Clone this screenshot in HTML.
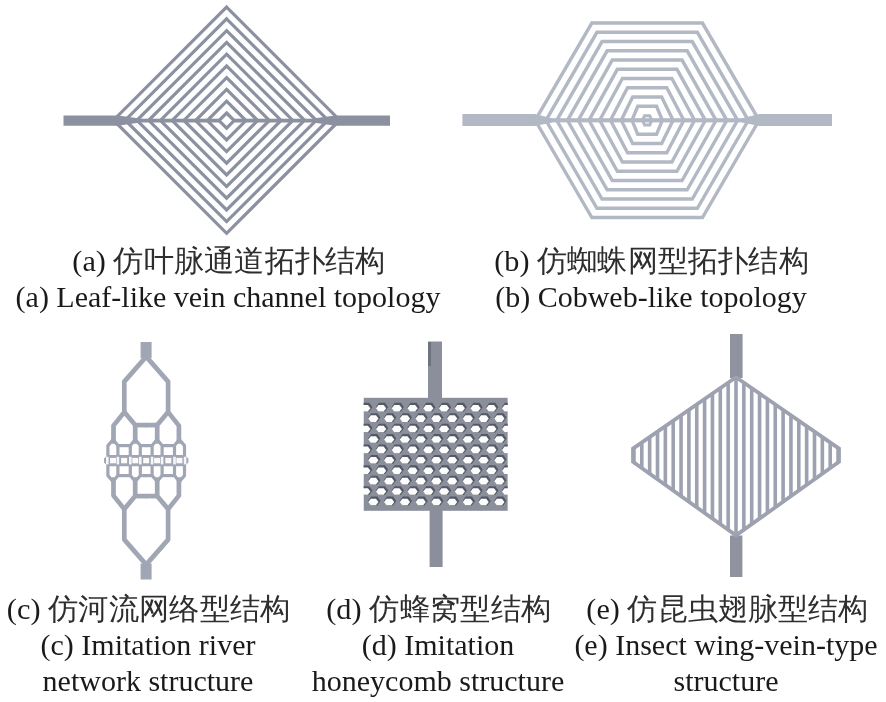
<!DOCTYPE html>
<html><head><meta charset="utf-8"><style>
html,body{margin:0;padding:0;background:#fff;width:886px;height:702px;overflow:hidden}
svg{display:block}
text{font-family:"Liberation Serif",serif;font-size:30px;fill:#1a1a1a}
svg{will-change:transform}
.cj{fill:#2e2e2e}
</style></head><body>
<svg width="886" height="702" viewBox="0 0 886 702">
<g>
<polygon points="226.6,113.00 234.20,120.60 226.6,128.20 219.00,120.60" fill="none" stroke="#8b91a0" stroke-width="3.2" stroke-linejoin="miter"/>
<polygon points="226.6,101.24 245.92,120.56 226.6,139.88 207.28,120.56" fill="none" stroke="#8b91a0" stroke-width="3.2" stroke-linejoin="miter"/>
<polygon points="226.6,89.47 257.64,120.51 226.6,151.55 195.56,120.51" fill="none" stroke="#8b91a0" stroke-width="3.2" stroke-linejoin="miter"/>
<polygon points="226.6,77.71 269.36,120.47 226.6,163.23 183.84,120.47" fill="none" stroke="#8b91a0" stroke-width="3.2" stroke-linejoin="miter"/>
<polygon points="226.6,65.94 281.08,120.42 226.6,174.90 172.12,120.42" fill="none" stroke="#8b91a0" stroke-width="3.2" stroke-linejoin="miter"/>
<polygon points="226.6,54.18 292.80,120.38 226.6,186.58 160.40,120.38" fill="none" stroke="#8b91a0" stroke-width="3.2" stroke-linejoin="miter"/>
<polygon points="226.6,42.41 304.52,120.33 226.6,198.25 148.68,120.33" fill="none" stroke="#8b91a0" stroke-width="3.2" stroke-linejoin="miter"/>
<polygon points="226.6,30.65 316.24,120.29 226.6,209.93 136.96,120.29" fill="none" stroke="#8b91a0" stroke-width="3.2" stroke-linejoin="miter"/>
<polygon points="226.6,18.88 327.96,120.24 226.6,221.60 125.24,120.24" fill="none" stroke="#8b91a0" stroke-width="3.2" stroke-linejoin="miter"/>
<polygon points="226.6,7.12 339.68,120.20 226.6,233.28 113.52,120.20" fill="none" stroke="#8b91a0" stroke-width="3.2" stroke-linejoin="miter"/>
<rect x="112.6" y="118.69999999999999" width="106.4" height="3.8" fill="#8b91a0"/>
<rect x="234.2" y="118.69999999999999" width="106.4" height="3.8" fill="#8b91a0"/>
<polygon points="63.5,115.4 118,115.4 140,118.6 140,122.6 118,125.8 63.5,125.8" fill="#8b91a0"/>
<polygon points="390,115.4 335.5,115.4 313,118.6 313,122.6 335.5,125.8 390,125.8" fill="#8b91a0"/>
<polygon points="637.75,106.30 656.55,106.30 662.35,120.30 656.55,134.30 637.75,134.30 631.95,120.30" fill="none" stroke="#b3b8c5" stroke-width="3.4"/>
<polygon points="632.65,97.05 661.65,97.05 673.10,120.30 661.65,143.55 632.65,143.55 621.20,120.30" fill="none" stroke="#b3b8c5" stroke-width="3.4"/>
<polygon points="627.55,87.80 666.75,87.80 683.85,120.30 666.75,152.80 627.55,152.80 610.45,120.30" fill="none" stroke="#b3b8c5" stroke-width="3.4"/>
<polygon points="622.45,78.55 671.85,78.55 694.60,120.30 671.85,162.05 622.45,162.05 599.70,120.30" fill="none" stroke="#b3b8c5" stroke-width="3.4"/>
<polygon points="617.35,69.30 676.95,69.30 705.35,120.30 676.95,171.30 617.35,171.30 588.95,120.30" fill="none" stroke="#b3b8c5" stroke-width="3.4"/>
<polygon points="612.25,60.05 682.05,60.05 716.10,120.30 682.05,180.55 612.25,180.55 578.20,120.30" fill="none" stroke="#b3b8c5" stroke-width="3.4"/>
<polygon points="607.15,50.80 687.15,50.80 726.85,120.30 687.15,189.80 607.15,189.80 567.45,120.30" fill="none" stroke="#b3b8c5" stroke-width="3.4"/>
<polygon points="602.05,41.55 692.25,41.55 737.60,120.30 692.25,199.05 602.05,199.05 556.70,120.30" fill="none" stroke="#b3b8c5" stroke-width="3.4"/>
<polygon points="596.95,32.30 697.35,32.30 748.35,120.30 697.35,208.30 596.95,208.30 545.95,120.30" fill="none" stroke="#b3b8c5" stroke-width="3.4"/>
<polygon points="591.85,23.05 702.45,23.05 759.10,120.30 702.45,217.55 591.85,217.55 535.20,120.30" fill="none" stroke="#b3b8c5" stroke-width="3.4"/>
<rect x="537.15" y="118.2" width="220" height="4.2" fill="#b3b8c5"/>
<polygon points="462.4,113.9 535,113.9 552,118.2 552,122.4 535,126 462.4,126" fill="#b3b8c5"/>
<polygon points="832,113.9 759.5,113.9 742,118.2 742,122.4 759.5,126 832,126" fill="#b3b8c5"/>
<polygon points="644.55,115.70 649.75,115.70 651.75,120.30 649.75,124.90 644.55,124.90 642.55,120.30" fill="none" stroke="#b3b8c5" stroke-width="3"/>
<rect x="140.6" y="342" width="11" height="16" fill="#a1a6b5"/>
<rect x="140.6" y="563.5" width="11" height="16" fill="#a1a6b5"/>
<polyline points="146.20,356.60 124.30,381.60 124.30,412.10" fill="none" stroke="#a1a6b5" stroke-width="4.7" stroke-linejoin="round"/>
<polyline points="146.20,564.60 124.30,539.60 124.30,509.10" fill="none" stroke="#a1a6b5" stroke-width="4.7" stroke-linejoin="round"/>
<polyline points="146.20,356.60 168.10,381.60 168.10,412.10" fill="none" stroke="#a1a6b5" stroke-width="4.7" stroke-linejoin="round"/>
<polyline points="146.20,564.60 168.10,539.60 168.10,509.10" fill="none" stroke="#a1a6b5" stroke-width="4.7" stroke-linejoin="round"/>
<polyline points="124.30,412.10 113.50,425.60 113.50,443.60" fill="none" stroke="#a1a6b5" stroke-width="4.7" stroke-linejoin="round"/>
<polyline points="124.30,509.10 113.50,495.60 113.50,477.60" fill="none" stroke="#a1a6b5" stroke-width="4.7" stroke-linejoin="round"/>
<polyline points="168.10,412.10 178.90,425.60 178.90,443.60" fill="none" stroke="#a1a6b5" stroke-width="4.7" stroke-linejoin="round"/>
<polyline points="168.10,509.10 178.90,495.60 178.90,477.60" fill="none" stroke="#a1a6b5" stroke-width="4.7" stroke-linejoin="round"/>
<polyline points="124.30,412.10 135.20,425.10 135.20,443.60" fill="none" stroke="#a1a6b5" stroke-width="4.7" stroke-linejoin="round"/>
<polyline points="124.30,509.10 135.20,496.10 135.20,477.60" fill="none" stroke="#a1a6b5" stroke-width="4.7" stroke-linejoin="round"/>
<polyline points="168.10,412.10 157.20,425.10 157.20,443.60" fill="none" stroke="#a1a6b5" stroke-width="4.7" stroke-linejoin="round"/>
<polyline points="168.10,509.10 157.20,496.10 157.20,477.60" fill="none" stroke="#a1a6b5" stroke-width="4.7" stroke-linejoin="round"/>
<polyline points="135.20,425.10 146.80,425.10" fill="none" stroke="#a1a6b5" stroke-width="4.7" stroke-linejoin="round"/>
<polyline points="135.20,496.10 146.80,496.10" fill="none" stroke="#a1a6b5" stroke-width="4.7" stroke-linejoin="round"/>
<polyline points="157.20,425.10 145.60,425.10" fill="none" stroke="#a1a6b5" stroke-width="4.7" stroke-linejoin="round"/>
<polyline points="157.20,496.10 145.60,496.10" fill="none" stroke="#a1a6b5" stroke-width="4.7" stroke-linejoin="round"/>
<polyline points="113.10,443.60 113.10,439.60 107.90,445.60 107.90,456.60" fill="none" stroke="#a1a6b5" stroke-width="3.2" stroke-linejoin="round"/>
<polyline points="113.10,477.60 113.10,481.60 107.90,475.60 107.90,464.60" fill="none" stroke="#a1a6b5" stroke-width="3.2" stroke-linejoin="round"/>
<polyline points="179.30,443.60 179.30,439.60 184.50,445.60 184.50,456.60" fill="none" stroke="#a1a6b5" stroke-width="3.2" stroke-linejoin="round"/>
<polyline points="179.30,477.60 179.30,481.60 184.50,475.60 184.50,464.60" fill="none" stroke="#a1a6b5" stroke-width="3.2" stroke-linejoin="round"/>
<polyline points="113.10,439.60 117.90,445.60 117.90,456.60" fill="none" stroke="#a1a6b5" stroke-width="3.2" stroke-linejoin="round"/>
<polyline points="113.10,481.60 117.90,475.60 117.90,464.60" fill="none" stroke="#a1a6b5" stroke-width="3.2" stroke-linejoin="round"/>
<polyline points="179.30,439.60 174.50,445.60 174.50,456.60" fill="none" stroke="#a1a6b5" stroke-width="3.2" stroke-linejoin="round"/>
<polyline points="179.30,481.60 174.50,475.60 174.50,464.60" fill="none" stroke="#a1a6b5" stroke-width="3.2" stroke-linejoin="round"/>
<polyline points="135.30,443.60 135.30,439.60 130.30,445.60 130.30,456.60" fill="none" stroke="#a1a6b5" stroke-width="3.2" stroke-linejoin="round"/>
<polyline points="135.30,477.60 135.30,481.60 130.30,475.60 130.30,464.60" fill="none" stroke="#a1a6b5" stroke-width="3.2" stroke-linejoin="round"/>
<polyline points="157.10,443.60 157.10,439.60 162.10,445.60 162.10,456.60" fill="none" stroke="#a1a6b5" stroke-width="3.2" stroke-linejoin="round"/>
<polyline points="157.10,477.60 157.10,481.60 162.10,475.60 162.10,464.60" fill="none" stroke="#a1a6b5" stroke-width="3.2" stroke-linejoin="round"/>
<polyline points="135.30,439.60 140.30,445.60 140.30,456.60" fill="none" stroke="#a1a6b5" stroke-width="3.2" stroke-linejoin="round"/>
<polyline points="135.30,481.60 140.30,475.60 140.30,464.60" fill="none" stroke="#a1a6b5" stroke-width="3.2" stroke-linejoin="round"/>
<polyline points="157.10,439.60 152.10,445.60 152.10,456.60" fill="none" stroke="#a1a6b5" stroke-width="3.2" stroke-linejoin="round"/>
<polyline points="157.10,481.60 152.10,475.60 152.10,464.60" fill="none" stroke="#a1a6b5" stroke-width="3.2" stroke-linejoin="round"/>
<polyline points="117.90,445.60 130.30,445.60" fill="none" stroke="#a1a6b5" stroke-width="3.2" stroke-linejoin="round"/>
<polyline points="117.90,475.60 130.30,475.60" fill="none" stroke="#a1a6b5" stroke-width="3.2" stroke-linejoin="round"/>
<polyline points="174.50,445.60 162.10,445.60" fill="none" stroke="#a1a6b5" stroke-width="3.2" stroke-linejoin="round"/>
<polyline points="174.50,475.60 162.10,475.60" fill="none" stroke="#a1a6b5" stroke-width="3.2" stroke-linejoin="round"/>
<polyline points="140.30,445.60 146.80,445.60" fill="none" stroke="#a1a6b5" stroke-width="3.2" stroke-linejoin="round"/>
<polyline points="140.30,475.60 146.80,475.60" fill="none" stroke="#a1a6b5" stroke-width="3.2" stroke-linejoin="round"/>
<polyline points="152.10,445.60 145.60,445.60" fill="none" stroke="#a1a6b5" stroke-width="3.2" stroke-linejoin="round"/>
<polyline points="152.10,475.60 145.60,475.60" fill="none" stroke="#a1a6b5" stroke-width="3.2" stroke-linejoin="round"/>
<polygon points="107.90,455.00 184.50,455.00 188.40,458.60 188.40,462.60 184.50,466.20 107.90,466.20 104.00,462.60 104.00,458.60" fill="#a1a6b5"/>
<rect x="110.00" y="457.90" width="6.0" height="5.4" fill="#fbfbfc"/>
<rect x="121.10" y="457.90" width="6.0" height="5.4" fill="#fbfbfc"/>
<rect x="132.30" y="457.90" width="6.0" height="5.4" fill="#fbfbfc"/>
<rect x="143.20" y="457.90" width="6.0" height="5.4" fill="#fbfbfc"/>
<rect x="154.10" y="457.90" width="6.0" height="5.4" fill="#fbfbfc"/>
<rect x="165.30" y="457.90" width="6.0" height="5.4" fill="#fbfbfc"/>
<rect x="176.40" y="457.90" width="6.0" height="5.4" fill="#fbfbfc"/>
<rect x="106.00" y="456.80" width="2.6" height="7.6" fill="#f6f7f9"/>
<rect x="116.60" y="456.80" width="2.6" height="7.6" fill="#f6f7f9"/>
<rect x="129.00" y="456.80" width="2.6" height="7.6" fill="#f6f7f9"/>
<rect x="139.00" y="456.80" width="2.6" height="7.6" fill="#f6f7f9"/>
<rect x="150.80" y="456.80" width="2.6" height="7.6" fill="#f6f7f9"/>
<rect x="160.80" y="456.80" width="2.6" height="7.6" fill="#f6f7f9"/>
<rect x="173.20" y="456.80" width="2.6" height="7.6" fill="#f6f7f9"/>
<rect x="183.80" y="456.80" width="2.6" height="7.6" fill="#f6f7f9"/>
<rect x="428" y="341.5" width="14" height="58" fill="#8b8f9b"/>
<rect x="428" y="342" width="3" height="24" fill="#6f737f"/>
<rect x="429.6" y="509" width="13" height="58" fill="#8b8f9b"/>
<rect x="363.5" y="397.8" width="144.3" height="113" fill="#8b8f9b"/>
<polygon points="363.15,402.80 369.35,402.80 372.45,407.20 369.35,411.60 363.15,411.60 360.05,407.20" fill="#555964"/>
<polygon points="362.80,404.90 367.90,404.90 370.45,408.20 367.90,411.50 362.80,411.50 360.25,408.20" fill="#fdfdfd"/>
<polygon points="378.90,402.80 385.10,402.80 388.20,407.20 385.10,411.60 378.90,411.60 375.80,407.20" fill="#555964"/>
<polygon points="378.55,404.90 383.65,404.90 386.20,408.20 383.65,411.50 378.55,411.50 376.00,408.20" fill="#fdfdfd"/>
<polygon points="394.65,402.80 400.85,402.80 403.95,407.20 400.85,411.60 394.65,411.60 391.55,407.20" fill="#555964"/>
<polygon points="394.30,404.90 399.40,404.90 401.95,408.20 399.40,411.50 394.30,411.50 391.75,408.20" fill="#fdfdfd"/>
<polygon points="410.40,402.80 416.60,402.80 419.70,407.20 416.60,411.60 410.40,411.60 407.30,407.20" fill="#555964"/>
<polygon points="410.05,404.90 415.15,404.90 417.70,408.20 415.15,411.50 410.05,411.50 407.50,408.20" fill="#fdfdfd"/>
<polygon points="426.15,402.80 432.35,402.80 435.45,407.20 432.35,411.60 426.15,411.60 423.05,407.20" fill="#555964"/>
<polygon points="425.80,404.90 430.90,404.90 433.45,408.20 430.90,411.50 425.80,411.50 423.25,408.20" fill="#fdfdfd"/>
<polygon points="441.90,402.80 448.10,402.80 451.20,407.20 448.10,411.60 441.90,411.60 438.80,407.20" fill="#555964"/>
<polygon points="441.55,404.90 446.65,404.90 449.20,408.20 446.65,411.50 441.55,411.50 439.00,408.20" fill="#fdfdfd"/>
<polygon points="457.65,402.80 463.85,402.80 466.95,407.20 463.85,411.60 457.65,411.60 454.55,407.20" fill="#555964"/>
<polygon points="457.30,404.90 462.40,404.90 464.95,408.20 462.40,411.50 457.30,411.50 454.75,408.20" fill="#fdfdfd"/>
<polygon points="473.40,402.80 479.60,402.80 482.70,407.20 479.60,411.60 473.40,411.60 470.30,407.20" fill="#555964"/>
<polygon points="473.05,404.90 478.15,404.90 480.70,408.20 478.15,411.50 473.05,411.50 470.50,408.20" fill="#fdfdfd"/>
<polygon points="489.15,402.80 495.35,402.80 498.45,407.20 495.35,411.60 489.15,411.60 486.05,407.20" fill="#555964"/>
<polygon points="488.80,404.90 493.90,404.90 496.45,408.20 493.90,411.50 488.80,411.50 486.25,408.20" fill="#fdfdfd"/>
<polygon points="504.90,402.80 511.10,402.80 514.20,407.20 511.10,411.60 504.90,411.60 501.80,407.20" fill="#555964"/>
<polygon points="504.55,404.90 509.65,404.90 512.20,408.20 509.65,411.50 504.55,411.50 502.00,408.20" fill="#fdfdfd"/>
<polygon points="371.20,413.22 377.40,413.22 380.50,417.62 377.40,422.02 371.20,422.02 368.10,417.62" fill="#555964"/>
<polygon points="370.85,415.32 375.95,415.32 378.50,418.62 375.95,421.92 370.85,421.92 368.30,418.62" fill="#fdfdfd"/>
<polygon points="386.95,413.22 393.15,413.22 396.25,417.62 393.15,422.02 386.95,422.02 383.85,417.62" fill="#555964"/>
<polygon points="386.60,415.32 391.70,415.32 394.25,418.62 391.70,421.92 386.60,421.92 384.05,418.62" fill="#fdfdfd"/>
<polygon points="402.70,413.22 408.90,413.22 412.00,417.62 408.90,422.02 402.70,422.02 399.60,417.62" fill="#555964"/>
<polygon points="402.35,415.32 407.45,415.32 410.00,418.62 407.45,421.92 402.35,421.92 399.80,418.62" fill="#fdfdfd"/>
<polygon points="418.45,413.22 424.65,413.22 427.75,417.62 424.65,422.02 418.45,422.02 415.35,417.62" fill="#555964"/>
<polygon points="418.10,415.32 423.20,415.32 425.75,418.62 423.20,421.92 418.10,421.92 415.55,418.62" fill="#fdfdfd"/>
<polygon points="434.20,413.22 440.40,413.22 443.50,417.62 440.40,422.02 434.20,422.02 431.10,417.62" fill="#555964"/>
<polygon points="433.85,415.32 438.95,415.32 441.50,418.62 438.95,421.92 433.85,421.92 431.30,418.62" fill="#fdfdfd"/>
<polygon points="449.95,413.22 456.15,413.22 459.25,417.62 456.15,422.02 449.95,422.02 446.85,417.62" fill="#555964"/>
<polygon points="449.60,415.32 454.70,415.32 457.25,418.62 454.70,421.92 449.60,421.92 447.05,418.62" fill="#fdfdfd"/>
<polygon points="465.70,413.22 471.90,413.22 475.00,417.62 471.90,422.02 465.70,422.02 462.60,417.62" fill="#555964"/>
<polygon points="465.35,415.32 470.45,415.32 473.00,418.62 470.45,421.92 465.35,421.92 462.80,418.62" fill="#fdfdfd"/>
<polygon points="481.45,413.22 487.65,413.22 490.75,417.62 487.65,422.02 481.45,422.02 478.35,417.62" fill="#555964"/>
<polygon points="481.10,415.32 486.20,415.32 488.75,418.62 486.20,421.92 481.10,421.92 478.55,418.62" fill="#fdfdfd"/>
<polygon points="497.20,413.22 503.40,413.22 506.50,417.62 503.40,422.02 497.20,422.02 494.10,417.62" fill="#555964"/>
<polygon points="496.85,415.32 501.95,415.32 504.50,418.62 501.95,421.92 496.85,421.92 494.30,418.62" fill="#fdfdfd"/>
<polygon points="363.15,423.64 369.35,423.64 372.45,428.04 369.35,432.44 363.15,432.44 360.05,428.04" fill="#555964"/>
<polygon points="362.80,425.74 367.90,425.74 370.45,429.04 367.90,432.34 362.80,432.34 360.25,429.04" fill="#fdfdfd"/>
<polygon points="378.90,423.64 385.10,423.64 388.20,428.04 385.10,432.44 378.90,432.44 375.80,428.04" fill="#555964"/>
<polygon points="378.55,425.74 383.65,425.74 386.20,429.04 383.65,432.34 378.55,432.34 376.00,429.04" fill="#fdfdfd"/>
<polygon points="394.65,423.64 400.85,423.64 403.95,428.04 400.85,432.44 394.65,432.44 391.55,428.04" fill="#555964"/>
<polygon points="394.30,425.74 399.40,425.74 401.95,429.04 399.40,432.34 394.30,432.34 391.75,429.04" fill="#fdfdfd"/>
<polygon points="410.40,423.64 416.60,423.64 419.70,428.04 416.60,432.44 410.40,432.44 407.30,428.04" fill="#555964"/>
<polygon points="410.05,425.74 415.15,425.74 417.70,429.04 415.15,432.34 410.05,432.34 407.50,429.04" fill="#fdfdfd"/>
<polygon points="426.15,423.64 432.35,423.64 435.45,428.04 432.35,432.44 426.15,432.44 423.05,428.04" fill="#555964"/>
<polygon points="425.80,425.74 430.90,425.74 433.45,429.04 430.90,432.34 425.80,432.34 423.25,429.04" fill="#fdfdfd"/>
<polygon points="441.90,423.64 448.10,423.64 451.20,428.04 448.10,432.44 441.90,432.44 438.80,428.04" fill="#555964"/>
<polygon points="441.55,425.74 446.65,425.74 449.20,429.04 446.65,432.34 441.55,432.34 439.00,429.04" fill="#fdfdfd"/>
<polygon points="457.65,423.64 463.85,423.64 466.95,428.04 463.85,432.44 457.65,432.44 454.55,428.04" fill="#555964"/>
<polygon points="457.30,425.74 462.40,425.74 464.95,429.04 462.40,432.34 457.30,432.34 454.75,429.04" fill="#fdfdfd"/>
<polygon points="473.40,423.64 479.60,423.64 482.70,428.04 479.60,432.44 473.40,432.44 470.30,428.04" fill="#555964"/>
<polygon points="473.05,425.74 478.15,425.74 480.70,429.04 478.15,432.34 473.05,432.34 470.50,429.04" fill="#fdfdfd"/>
<polygon points="489.15,423.64 495.35,423.64 498.45,428.04 495.35,432.44 489.15,432.44 486.05,428.04" fill="#555964"/>
<polygon points="488.80,425.74 493.90,425.74 496.45,429.04 493.90,432.34 488.80,432.34 486.25,429.04" fill="#fdfdfd"/>
<polygon points="504.90,423.64 511.10,423.64 514.20,428.04 511.10,432.44 504.90,432.44 501.80,428.04" fill="#555964"/>
<polygon points="504.55,425.74 509.65,425.74 512.20,429.04 509.65,432.34 504.55,432.34 502.00,429.04" fill="#fdfdfd"/>
<polygon points="371.20,434.06 377.40,434.06 380.50,438.46 377.40,442.86 371.20,442.86 368.10,438.46" fill="#555964"/>
<polygon points="370.85,436.16 375.95,436.16 378.50,439.46 375.95,442.76 370.85,442.76 368.30,439.46" fill="#fdfdfd"/>
<polygon points="386.95,434.06 393.15,434.06 396.25,438.46 393.15,442.86 386.95,442.86 383.85,438.46" fill="#555964"/>
<polygon points="386.60,436.16 391.70,436.16 394.25,439.46 391.70,442.76 386.60,442.76 384.05,439.46" fill="#fdfdfd"/>
<polygon points="402.70,434.06 408.90,434.06 412.00,438.46 408.90,442.86 402.70,442.86 399.60,438.46" fill="#555964"/>
<polygon points="402.35,436.16 407.45,436.16 410.00,439.46 407.45,442.76 402.35,442.76 399.80,439.46" fill="#fdfdfd"/>
<polygon points="418.45,434.06 424.65,434.06 427.75,438.46 424.65,442.86 418.45,442.86 415.35,438.46" fill="#555964"/>
<polygon points="418.10,436.16 423.20,436.16 425.75,439.46 423.20,442.76 418.10,442.76 415.55,439.46" fill="#fdfdfd"/>
<polygon points="434.20,434.06 440.40,434.06 443.50,438.46 440.40,442.86 434.20,442.86 431.10,438.46" fill="#555964"/>
<polygon points="433.85,436.16 438.95,436.16 441.50,439.46 438.95,442.76 433.85,442.76 431.30,439.46" fill="#fdfdfd"/>
<polygon points="449.95,434.06 456.15,434.06 459.25,438.46 456.15,442.86 449.95,442.86 446.85,438.46" fill="#555964"/>
<polygon points="449.60,436.16 454.70,436.16 457.25,439.46 454.70,442.76 449.60,442.76 447.05,439.46" fill="#fdfdfd"/>
<polygon points="465.70,434.06 471.90,434.06 475.00,438.46 471.90,442.86 465.70,442.86 462.60,438.46" fill="#555964"/>
<polygon points="465.35,436.16 470.45,436.16 473.00,439.46 470.45,442.76 465.35,442.76 462.80,439.46" fill="#fdfdfd"/>
<polygon points="481.45,434.06 487.65,434.06 490.75,438.46 487.65,442.86 481.45,442.86 478.35,438.46" fill="#555964"/>
<polygon points="481.10,436.16 486.20,436.16 488.75,439.46 486.20,442.76 481.10,442.76 478.55,439.46" fill="#fdfdfd"/>
<polygon points="497.20,434.06 503.40,434.06 506.50,438.46 503.40,442.86 497.20,442.86 494.10,438.46" fill="#555964"/>
<polygon points="496.85,436.16 501.95,436.16 504.50,439.46 501.95,442.76 496.85,442.76 494.30,439.46" fill="#fdfdfd"/>
<polygon points="363.15,444.48 369.35,444.48 372.45,448.88 369.35,453.28 363.15,453.28 360.05,448.88" fill="#555964"/>
<polygon points="362.80,446.58 367.90,446.58 370.45,449.88 367.90,453.18 362.80,453.18 360.25,449.88" fill="#fdfdfd"/>
<polygon points="378.90,444.48 385.10,444.48 388.20,448.88 385.10,453.28 378.90,453.28 375.80,448.88" fill="#555964"/>
<polygon points="378.55,446.58 383.65,446.58 386.20,449.88 383.65,453.18 378.55,453.18 376.00,449.88" fill="#fdfdfd"/>
<polygon points="394.65,444.48 400.85,444.48 403.95,448.88 400.85,453.28 394.65,453.28 391.55,448.88" fill="#555964"/>
<polygon points="394.30,446.58 399.40,446.58 401.95,449.88 399.40,453.18 394.30,453.18 391.75,449.88" fill="#fdfdfd"/>
<polygon points="410.40,444.48 416.60,444.48 419.70,448.88 416.60,453.28 410.40,453.28 407.30,448.88" fill="#555964"/>
<polygon points="410.05,446.58 415.15,446.58 417.70,449.88 415.15,453.18 410.05,453.18 407.50,449.88" fill="#fdfdfd"/>
<polygon points="426.15,444.48 432.35,444.48 435.45,448.88 432.35,453.28 426.15,453.28 423.05,448.88" fill="#555964"/>
<polygon points="425.80,446.58 430.90,446.58 433.45,449.88 430.90,453.18 425.80,453.18 423.25,449.88" fill="#fdfdfd"/>
<polygon points="441.90,444.48 448.10,444.48 451.20,448.88 448.10,453.28 441.90,453.28 438.80,448.88" fill="#555964"/>
<polygon points="441.55,446.58 446.65,446.58 449.20,449.88 446.65,453.18 441.55,453.18 439.00,449.88" fill="#fdfdfd"/>
<polygon points="457.65,444.48 463.85,444.48 466.95,448.88 463.85,453.28 457.65,453.28 454.55,448.88" fill="#555964"/>
<polygon points="457.30,446.58 462.40,446.58 464.95,449.88 462.40,453.18 457.30,453.18 454.75,449.88" fill="#fdfdfd"/>
<polygon points="473.40,444.48 479.60,444.48 482.70,448.88 479.60,453.28 473.40,453.28 470.30,448.88" fill="#555964"/>
<polygon points="473.05,446.58 478.15,446.58 480.70,449.88 478.15,453.18 473.05,453.18 470.50,449.88" fill="#fdfdfd"/>
<polygon points="489.15,444.48 495.35,444.48 498.45,448.88 495.35,453.28 489.15,453.28 486.05,448.88" fill="#555964"/>
<polygon points="488.80,446.58 493.90,446.58 496.45,449.88 493.90,453.18 488.80,453.18 486.25,449.88" fill="#fdfdfd"/>
<polygon points="504.90,444.48 511.10,444.48 514.20,448.88 511.10,453.28 504.90,453.28 501.80,448.88" fill="#555964"/>
<polygon points="504.55,446.58 509.65,446.58 512.20,449.88 509.65,453.18 504.55,453.18 502.00,449.88" fill="#fdfdfd"/>
<polygon points="371.20,454.90 377.40,454.90 380.50,459.30 377.40,463.70 371.20,463.70 368.10,459.30" fill="#555964"/>
<polygon points="370.85,457.00 375.95,457.00 378.50,460.30 375.95,463.60 370.85,463.60 368.30,460.30" fill="#fdfdfd"/>
<polygon points="386.95,454.90 393.15,454.90 396.25,459.30 393.15,463.70 386.95,463.70 383.85,459.30" fill="#555964"/>
<polygon points="386.60,457.00 391.70,457.00 394.25,460.30 391.70,463.60 386.60,463.60 384.05,460.30" fill="#fdfdfd"/>
<polygon points="402.70,454.90 408.90,454.90 412.00,459.30 408.90,463.70 402.70,463.70 399.60,459.30" fill="#555964"/>
<polygon points="402.35,457.00 407.45,457.00 410.00,460.30 407.45,463.60 402.35,463.60 399.80,460.30" fill="#fdfdfd"/>
<polygon points="418.45,454.90 424.65,454.90 427.75,459.30 424.65,463.70 418.45,463.70 415.35,459.30" fill="#555964"/>
<polygon points="418.10,457.00 423.20,457.00 425.75,460.30 423.20,463.60 418.10,463.60 415.55,460.30" fill="#fdfdfd"/>
<polygon points="434.20,454.90 440.40,454.90 443.50,459.30 440.40,463.70 434.20,463.70 431.10,459.30" fill="#555964"/>
<polygon points="433.85,457.00 438.95,457.00 441.50,460.30 438.95,463.60 433.85,463.60 431.30,460.30" fill="#fdfdfd"/>
<polygon points="449.95,454.90 456.15,454.90 459.25,459.30 456.15,463.70 449.95,463.70 446.85,459.30" fill="#555964"/>
<polygon points="449.60,457.00 454.70,457.00 457.25,460.30 454.70,463.60 449.60,463.60 447.05,460.30" fill="#fdfdfd"/>
<polygon points="465.70,454.90 471.90,454.90 475.00,459.30 471.90,463.70 465.70,463.70 462.60,459.30" fill="#555964"/>
<polygon points="465.35,457.00 470.45,457.00 473.00,460.30 470.45,463.60 465.35,463.60 462.80,460.30" fill="#fdfdfd"/>
<polygon points="481.45,454.90 487.65,454.90 490.75,459.30 487.65,463.70 481.45,463.70 478.35,459.30" fill="#555964"/>
<polygon points="481.10,457.00 486.20,457.00 488.75,460.30 486.20,463.60 481.10,463.60 478.55,460.30" fill="#fdfdfd"/>
<polygon points="497.20,454.90 503.40,454.90 506.50,459.30 503.40,463.70 497.20,463.70 494.10,459.30" fill="#555964"/>
<polygon points="496.85,457.00 501.95,457.00 504.50,460.30 501.95,463.60 496.85,463.60 494.30,460.30" fill="#fdfdfd"/>
<polygon points="363.15,465.32 369.35,465.32 372.45,469.72 369.35,474.12 363.15,474.12 360.05,469.72" fill="#555964"/>
<polygon points="362.80,467.42 367.90,467.42 370.45,470.72 367.90,474.02 362.80,474.02 360.25,470.72" fill="#fdfdfd"/>
<polygon points="378.90,465.32 385.10,465.32 388.20,469.72 385.10,474.12 378.90,474.12 375.80,469.72" fill="#555964"/>
<polygon points="378.55,467.42 383.65,467.42 386.20,470.72 383.65,474.02 378.55,474.02 376.00,470.72" fill="#fdfdfd"/>
<polygon points="394.65,465.32 400.85,465.32 403.95,469.72 400.85,474.12 394.65,474.12 391.55,469.72" fill="#555964"/>
<polygon points="394.30,467.42 399.40,467.42 401.95,470.72 399.40,474.02 394.30,474.02 391.75,470.72" fill="#fdfdfd"/>
<polygon points="410.40,465.32 416.60,465.32 419.70,469.72 416.60,474.12 410.40,474.12 407.30,469.72" fill="#555964"/>
<polygon points="410.05,467.42 415.15,467.42 417.70,470.72 415.15,474.02 410.05,474.02 407.50,470.72" fill="#fdfdfd"/>
<polygon points="426.15,465.32 432.35,465.32 435.45,469.72 432.35,474.12 426.15,474.12 423.05,469.72" fill="#555964"/>
<polygon points="425.80,467.42 430.90,467.42 433.45,470.72 430.90,474.02 425.80,474.02 423.25,470.72" fill="#fdfdfd"/>
<polygon points="441.90,465.32 448.10,465.32 451.20,469.72 448.10,474.12 441.90,474.12 438.80,469.72" fill="#555964"/>
<polygon points="441.55,467.42 446.65,467.42 449.20,470.72 446.65,474.02 441.55,474.02 439.00,470.72" fill="#fdfdfd"/>
<polygon points="457.65,465.32 463.85,465.32 466.95,469.72 463.85,474.12 457.65,474.12 454.55,469.72" fill="#555964"/>
<polygon points="457.30,467.42 462.40,467.42 464.95,470.72 462.40,474.02 457.30,474.02 454.75,470.72" fill="#fdfdfd"/>
<polygon points="473.40,465.32 479.60,465.32 482.70,469.72 479.60,474.12 473.40,474.12 470.30,469.72" fill="#555964"/>
<polygon points="473.05,467.42 478.15,467.42 480.70,470.72 478.15,474.02 473.05,474.02 470.50,470.72" fill="#fdfdfd"/>
<polygon points="489.15,465.32 495.35,465.32 498.45,469.72 495.35,474.12 489.15,474.12 486.05,469.72" fill="#555964"/>
<polygon points="488.80,467.42 493.90,467.42 496.45,470.72 493.90,474.02 488.80,474.02 486.25,470.72" fill="#fdfdfd"/>
<polygon points="504.90,465.32 511.10,465.32 514.20,469.72 511.10,474.12 504.90,474.12 501.80,469.72" fill="#555964"/>
<polygon points="504.55,467.42 509.65,467.42 512.20,470.72 509.65,474.02 504.55,474.02 502.00,470.72" fill="#fdfdfd"/>
<polygon points="371.20,475.74 377.40,475.74 380.50,480.14 377.40,484.54 371.20,484.54 368.10,480.14" fill="#555964"/>
<polygon points="370.85,477.84 375.95,477.84 378.50,481.14 375.95,484.44 370.85,484.44 368.30,481.14" fill="#fdfdfd"/>
<polygon points="386.95,475.74 393.15,475.74 396.25,480.14 393.15,484.54 386.95,484.54 383.85,480.14" fill="#555964"/>
<polygon points="386.60,477.84 391.70,477.84 394.25,481.14 391.70,484.44 386.60,484.44 384.05,481.14" fill="#fdfdfd"/>
<polygon points="402.70,475.74 408.90,475.74 412.00,480.14 408.90,484.54 402.70,484.54 399.60,480.14" fill="#555964"/>
<polygon points="402.35,477.84 407.45,477.84 410.00,481.14 407.45,484.44 402.35,484.44 399.80,481.14" fill="#fdfdfd"/>
<polygon points="418.45,475.74 424.65,475.74 427.75,480.14 424.65,484.54 418.45,484.54 415.35,480.14" fill="#555964"/>
<polygon points="418.10,477.84 423.20,477.84 425.75,481.14 423.20,484.44 418.10,484.44 415.55,481.14" fill="#fdfdfd"/>
<polygon points="434.20,475.74 440.40,475.74 443.50,480.14 440.40,484.54 434.20,484.54 431.10,480.14" fill="#555964"/>
<polygon points="433.85,477.84 438.95,477.84 441.50,481.14 438.95,484.44 433.85,484.44 431.30,481.14" fill="#fdfdfd"/>
<polygon points="449.95,475.74 456.15,475.74 459.25,480.14 456.15,484.54 449.95,484.54 446.85,480.14" fill="#555964"/>
<polygon points="449.60,477.84 454.70,477.84 457.25,481.14 454.70,484.44 449.60,484.44 447.05,481.14" fill="#fdfdfd"/>
<polygon points="465.70,475.74 471.90,475.74 475.00,480.14 471.90,484.54 465.70,484.54 462.60,480.14" fill="#555964"/>
<polygon points="465.35,477.84 470.45,477.84 473.00,481.14 470.45,484.44 465.35,484.44 462.80,481.14" fill="#fdfdfd"/>
<polygon points="481.45,475.74 487.65,475.74 490.75,480.14 487.65,484.54 481.45,484.54 478.35,480.14" fill="#555964"/>
<polygon points="481.10,477.84 486.20,477.84 488.75,481.14 486.20,484.44 481.10,484.44 478.55,481.14" fill="#fdfdfd"/>
<polygon points="497.20,475.74 503.40,475.74 506.50,480.14 503.40,484.54 497.20,484.54 494.10,480.14" fill="#555964"/>
<polygon points="496.85,477.84 501.95,477.84 504.50,481.14 501.95,484.44 496.85,484.44 494.30,481.14" fill="#fdfdfd"/>
<polygon points="363.15,486.16 369.35,486.16 372.45,490.56 369.35,494.96 363.15,494.96 360.05,490.56" fill="#555964"/>
<polygon points="362.80,488.26 367.90,488.26 370.45,491.56 367.90,494.86 362.80,494.86 360.25,491.56" fill="#fdfdfd"/>
<polygon points="378.90,486.16 385.10,486.16 388.20,490.56 385.10,494.96 378.90,494.96 375.80,490.56" fill="#555964"/>
<polygon points="378.55,488.26 383.65,488.26 386.20,491.56 383.65,494.86 378.55,494.86 376.00,491.56" fill="#fdfdfd"/>
<polygon points="394.65,486.16 400.85,486.16 403.95,490.56 400.85,494.96 394.65,494.96 391.55,490.56" fill="#555964"/>
<polygon points="394.30,488.26 399.40,488.26 401.95,491.56 399.40,494.86 394.30,494.86 391.75,491.56" fill="#fdfdfd"/>
<polygon points="410.40,486.16 416.60,486.16 419.70,490.56 416.60,494.96 410.40,494.96 407.30,490.56" fill="#555964"/>
<polygon points="410.05,488.26 415.15,488.26 417.70,491.56 415.15,494.86 410.05,494.86 407.50,491.56" fill="#fdfdfd"/>
<polygon points="426.15,486.16 432.35,486.16 435.45,490.56 432.35,494.96 426.15,494.96 423.05,490.56" fill="#555964"/>
<polygon points="425.80,488.26 430.90,488.26 433.45,491.56 430.90,494.86 425.80,494.86 423.25,491.56" fill="#fdfdfd"/>
<polygon points="441.90,486.16 448.10,486.16 451.20,490.56 448.10,494.96 441.90,494.96 438.80,490.56" fill="#555964"/>
<polygon points="441.55,488.26 446.65,488.26 449.20,491.56 446.65,494.86 441.55,494.86 439.00,491.56" fill="#fdfdfd"/>
<polygon points="457.65,486.16 463.85,486.16 466.95,490.56 463.85,494.96 457.65,494.96 454.55,490.56" fill="#555964"/>
<polygon points="457.30,488.26 462.40,488.26 464.95,491.56 462.40,494.86 457.30,494.86 454.75,491.56" fill="#fdfdfd"/>
<polygon points="473.40,486.16 479.60,486.16 482.70,490.56 479.60,494.96 473.40,494.96 470.30,490.56" fill="#555964"/>
<polygon points="473.05,488.26 478.15,488.26 480.70,491.56 478.15,494.86 473.05,494.86 470.50,491.56" fill="#fdfdfd"/>
<polygon points="489.15,486.16 495.35,486.16 498.45,490.56 495.35,494.96 489.15,494.96 486.05,490.56" fill="#555964"/>
<polygon points="488.80,488.26 493.90,488.26 496.45,491.56 493.90,494.86 488.80,494.86 486.25,491.56" fill="#fdfdfd"/>
<polygon points="504.90,486.16 511.10,486.16 514.20,490.56 511.10,494.96 504.90,494.96 501.80,490.56" fill="#555964"/>
<polygon points="504.55,488.26 509.65,488.26 512.20,491.56 509.65,494.86 504.55,494.86 502.00,491.56" fill="#fdfdfd"/>
<polygon points="371.20,496.58 377.40,496.58 380.50,500.98 377.40,505.38 371.20,505.38 368.10,500.98" fill="#555964"/>
<polygon points="370.85,498.68 375.95,498.68 378.50,501.98 375.95,505.28 370.85,505.28 368.30,501.98" fill="#fdfdfd"/>
<polygon points="386.95,496.58 393.15,496.58 396.25,500.98 393.15,505.38 386.95,505.38 383.85,500.98" fill="#555964"/>
<polygon points="386.60,498.68 391.70,498.68 394.25,501.98 391.70,505.28 386.60,505.28 384.05,501.98" fill="#fdfdfd"/>
<polygon points="402.70,496.58 408.90,496.58 412.00,500.98 408.90,505.38 402.70,505.38 399.60,500.98" fill="#555964"/>
<polygon points="402.35,498.68 407.45,498.68 410.00,501.98 407.45,505.28 402.35,505.28 399.80,501.98" fill="#fdfdfd"/>
<polygon points="418.45,496.58 424.65,496.58 427.75,500.98 424.65,505.38 418.45,505.38 415.35,500.98" fill="#555964"/>
<polygon points="418.10,498.68 423.20,498.68 425.75,501.98 423.20,505.28 418.10,505.28 415.55,501.98" fill="#fdfdfd"/>
<polygon points="434.20,496.58 440.40,496.58 443.50,500.98 440.40,505.38 434.20,505.38 431.10,500.98" fill="#555964"/>
<polygon points="433.85,498.68 438.95,498.68 441.50,501.98 438.95,505.28 433.85,505.28 431.30,501.98" fill="#fdfdfd"/>
<polygon points="449.95,496.58 456.15,496.58 459.25,500.98 456.15,505.38 449.95,505.38 446.85,500.98" fill="#555964"/>
<polygon points="449.60,498.68 454.70,498.68 457.25,501.98 454.70,505.28 449.60,505.28 447.05,501.98" fill="#fdfdfd"/>
<polygon points="465.70,496.58 471.90,496.58 475.00,500.98 471.90,505.38 465.70,505.38 462.60,500.98" fill="#555964"/>
<polygon points="465.35,498.68 470.45,498.68 473.00,501.98 470.45,505.28 465.35,505.28 462.80,501.98" fill="#fdfdfd"/>
<polygon points="481.45,496.58 487.65,496.58 490.75,500.98 487.65,505.38 481.45,505.38 478.35,500.98" fill="#555964"/>
<polygon points="481.10,498.68 486.20,498.68 488.75,501.98 486.20,505.28 481.10,505.28 478.55,501.98" fill="#fdfdfd"/>
<polygon points="497.20,496.58 503.40,496.58 506.50,500.98 503.40,505.38 497.20,505.38 494.10,500.98" fill="#555964"/>
<polygon points="496.85,498.68 501.95,498.68 504.50,501.98 501.95,505.28 496.85,505.28 494.30,501.98" fill="#fdfdfd"/>
<rect x="340" y="396" width="23.5" height="120" fill="#fff"/>
<rect x="507.8" y="396" width="20" height="120" fill="#fff"/>
<rect x="730" y="334" width="12.6" height="44" fill="#8f939f"/>
<rect x="730" y="535.5" width="12.4" height="41.5" fill="#8f939f"/>
<polygon points="736,377.2 839,448.59999999999997 839,461.8 736,535.4 633,461.8 633,448.59999999999997" fill="none" stroke="#9ea2b0" stroke-width="3.8"/>
<line x1="633.95" y1="447.94" x2="633.95" y2="462.48" stroke="#9ea2b0" stroke-width="3.6"/>
<line x1="641.80" y1="442.50" x2="641.80" y2="468.09" stroke="#9ea2b0" stroke-width="3.6"/>
<line x1="649.65" y1="437.06" x2="649.65" y2="473.70" stroke="#9ea2b0" stroke-width="3.6"/>
<line x1="657.50" y1="431.62" x2="657.50" y2="479.31" stroke="#9ea2b0" stroke-width="3.6"/>
<line x1="665.35" y1="426.17" x2="665.35" y2="484.92" stroke="#9ea2b0" stroke-width="3.6"/>
<line x1="673.20" y1="420.73" x2="673.20" y2="490.53" stroke="#9ea2b0" stroke-width="3.6"/>
<line x1="681.05" y1="415.29" x2="681.05" y2="496.13" stroke="#9ea2b0" stroke-width="3.6"/>
<line x1="688.90" y1="409.85" x2="688.90" y2="501.74" stroke="#9ea2b0" stroke-width="3.6"/>
<line x1="696.75" y1="404.41" x2="696.75" y2="507.35" stroke="#9ea2b0" stroke-width="3.6"/>
<line x1="704.60" y1="398.97" x2="704.60" y2="512.96" stroke="#9ea2b0" stroke-width="3.6"/>
<line x1="712.45" y1="393.52" x2="712.45" y2="518.57" stroke="#9ea2b0" stroke-width="3.6"/>
<line x1="720.30" y1="388.08" x2="720.30" y2="524.18" stroke="#9ea2b0" stroke-width="3.6"/>
<line x1="728.15" y1="382.64" x2="728.15" y2="529.79" stroke="#9ea2b0" stroke-width="3.6"/>
<line x1="736.00" y1="377.20" x2="736.00" y2="535.40" stroke="#9ea2b0" stroke-width="3.6"/>
<line x1="743.85" y1="382.64" x2="743.85" y2="529.79" stroke="#9ea2b0" stroke-width="3.6"/>
<line x1="751.70" y1="388.08" x2="751.70" y2="524.18" stroke="#9ea2b0" stroke-width="3.6"/>
<line x1="759.55" y1="393.52" x2="759.55" y2="518.57" stroke="#9ea2b0" stroke-width="3.6"/>
<line x1="767.40" y1="398.97" x2="767.40" y2="512.96" stroke="#9ea2b0" stroke-width="3.6"/>
<line x1="775.25" y1="404.41" x2="775.25" y2="507.35" stroke="#9ea2b0" stroke-width="3.6"/>
<line x1="783.10" y1="409.85" x2="783.10" y2="501.74" stroke="#9ea2b0" stroke-width="3.6"/>
<line x1="790.95" y1="415.29" x2="790.95" y2="496.13" stroke="#9ea2b0" stroke-width="3.6"/>
<line x1="798.80" y1="420.73" x2="798.80" y2="490.53" stroke="#9ea2b0" stroke-width="3.6"/>
<line x1="806.65" y1="426.17" x2="806.65" y2="484.92" stroke="#9ea2b0" stroke-width="3.6"/>
<line x1="814.50" y1="431.62" x2="814.50" y2="479.31" stroke="#9ea2b0" stroke-width="3.6"/>
<line x1="822.35" y1="437.06" x2="822.35" y2="473.70" stroke="#9ea2b0" stroke-width="3.6"/>
<line x1="830.20" y1="442.50" x2="830.20" y2="468.09" stroke="#9ea2b0" stroke-width="3.6"/>
<line x1="838.05" y1="447.94" x2="838.05" y2="462.48" stroke="#9ea2b0" stroke-width="3.6"/>
</g>
<text x="72.35" y="271.2" textLength="313.30" lengthAdjust="spacingAndGlyphs">(a) <tspan class="cj">仿叶脉通道拓扑结构</tspan></text>
<text x="15.59" y="307.3" textLength="424.83" lengthAdjust="spacingAndGlyphs">(a) Leaf-like vein channel topology</text>
<text x="494.26" y="271.2" textLength="314.48" lengthAdjust="spacingAndGlyphs">(b) <tspan class="cj">仿蜘蛛网型拓扑结构</tspan></text>
<text x="495.19" y="307.3" textLength="311.63" lengthAdjust="spacingAndGlyphs">(b) Cobweb-like topology</text>
<text x="6.85" y="618.9" textLength="283.80" lengthAdjust="spacingAndGlyphs">(c) <tspan class="cj">仿河流网络型结构</tspan></text>
<text x="40.54" y="654.9" textLength="214.92" lengthAdjust="spacingAndGlyphs">(c) Imitation river</text>
<text x="42.61" y="691.3" textLength="210.77" lengthAdjust="spacingAndGlyphs">network structure</text>
<text x="326.26" y="618.9" textLength="224.98" lengthAdjust="spacingAndGlyphs">(d) <tspan class="cj">仿蜂窝型结构</tspan></text>
<text x="361.76" y="654.9" textLength="152.47" lengthAdjust="spacingAndGlyphs">(d) Imitation</text>
<text x="311.79" y="691.3" textLength="252.42" lengthAdjust="spacingAndGlyphs">honeycomb structure</text>
<text x="586.35" y="618.9" textLength="282.30" lengthAdjust="spacingAndGlyphs">(e) <tspan class="cj">仿昆虫翅脉型结构</tspan></text>
<text x="574.39" y="654.9" textLength="303.22" lengthAdjust="spacingAndGlyphs">(e) Insect wing-vein-type</text>
<text x="673.51" y="691.3" textLength="104.97" lengthAdjust="spacingAndGlyphs">structure</text>
</svg>
</body></html>
